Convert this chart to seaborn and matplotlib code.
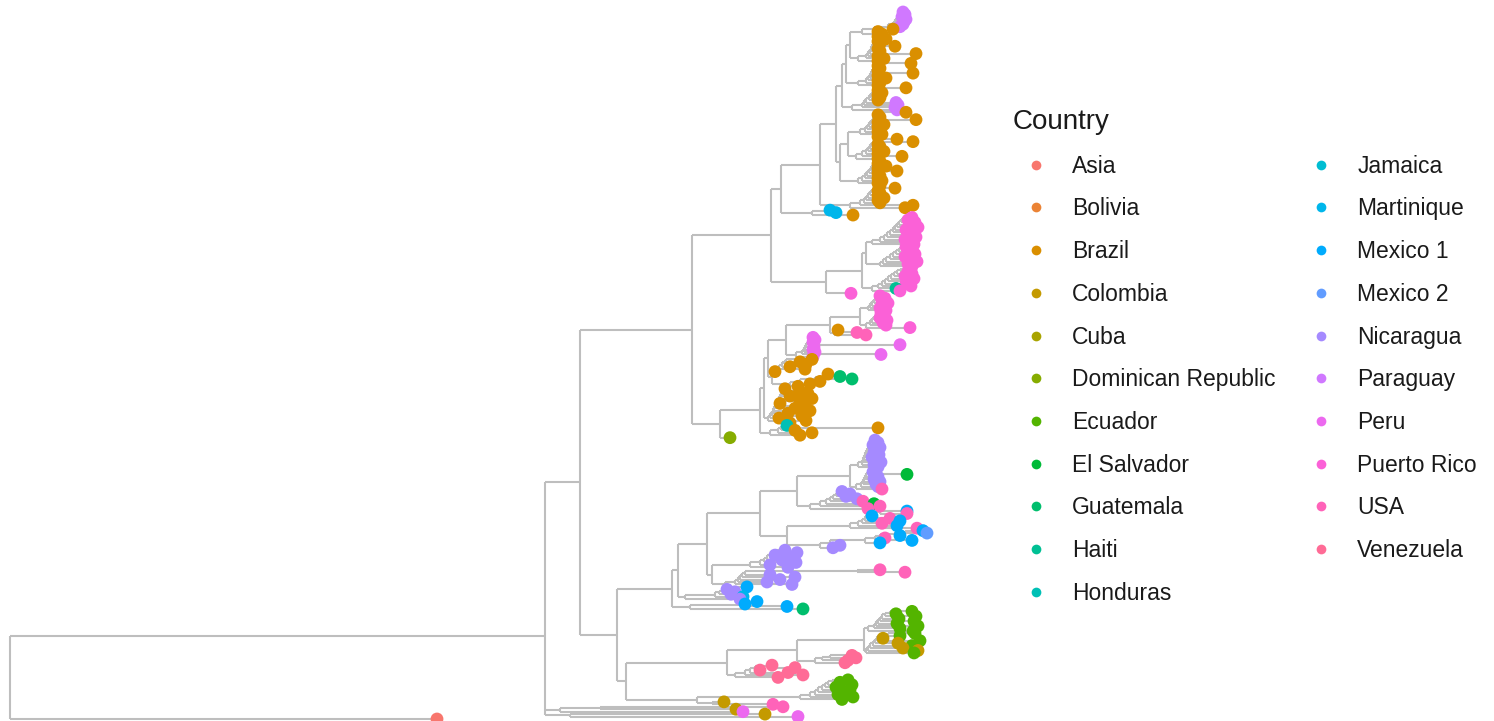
import numpy as np
import pandas as pd
import matplotlib
matplotlib.use("Agg")
import matplotlib.pyplot as plt
from matplotlib.collections import LineCollection
from matplotlib.lines import Line2D
import seaborn as sns

# ---- legend levels (factor order) ----
COUNTRIES = ["Asia", "Bolivia", "Brazil", "Colombia", "Cuba", "Dominican Republic",
             "Ecuador", "El Salvador", "Guatemala", "Haiti", "Honduras", "Jamaica",
             "Martinique", "Mexico 1", "Mexico 2", "Nicaragua", "Paraguay", "Peru",
             "Puerto Rico", "USA", "Venezuela"]
CODES = ["As", "Bo", "Br", "Co", "Cu", "DR", "Ec", "ES", "Gu", "Ha", "Ho", "Ja",
         "Ma", "M1", "M2", "Ni", "Pa", "Pe", "PR", "US", "Ve"]

# ---- ladder-shaped sub-clades, listed top to bottom ----
# "tip tip node tip node ...": every tip after the first is joined to the
# clade above it at the node depth that follows it (depths measured from the root)
T1 = "Pa:903 Pa:905 902 Pa:902 900 Pa:906 899 Pa:904 897 Pa:903 895 Pa:900 893 Br:893 888 Br:878 874 Br:882 862"
T2 = "Br:878 Br:886 876 Br:878 875 Br:880 874 Br:895 873 Br:878 872 Br:880 871 Br:916 870 Br:878 868 Br:884 866 Br:878 858"
T3 = "Br:911 Br:878 876 Br:880 875 Br:878 874 Br:913 872 Br:878 871 Br:886 870 Br:878 868 Br:880 866 Br:878 858"
T4 = "Br:906 Br:878 876 Br:882 874 Br:878 873 Br:880 871 Br:878 869 Pa:896 866 Pa:898 864 Pa:895 862 Pa:897 852"
T5 = "Br:906 Br:878 876 Br:880 875 Br:916 874 Br:878 873 Br:884 871 Br:878 869 Br:880 867 Br:878 865 Br:882 860"
T6 = "Br:878 Br:897 876 Br:913 875 Br:878 874 Br:880 872 Br:878 870 Br:884 868 Br:878 866 Br:902 862 Br:878 856"
T7 = "Br:880 Br:878 876 Br:886 875 Br:878 873 Br:897 871 Br:878 869 Br:880 867 Br:878 865 Br:882 862 Br:878 858"
T8 = "Br:880 Br:895 876 Br:878 874 Br:880 872 Br:878 870 Br:884 868 Br:878 866 Br:880 864 Br:913 860 Br:905 850"
MARTINIQUE = "Ma:830 Ma:836 826 Br:853 812"

PR_A = "PR:912 PR:908 903 PR:915 901 PR:910 899 PR:918 897 PR:906 895 PR:913 893 PR:909 890 PR:916 887 PR:905 884 PR:911 880 PR:914 872"
PR_B = "PR:906 PR:912 902 PR:909 899 PR:915 896 PR:905 893 PR:910 890 PR:917 886 PR:908 883 PR:912 880"
PR_C = "PR:910 PR:908 900 PR:912 897 PR:905 894 PR:914 891 PR:909 888 PR:906 885 PR:911 882 Ha:896 878 PR:900 872"

PR_L1 = "PR:880 PR:885 878 PR:882 876 PR:888 874 PR:884 872 PR:880 870 PR:886 868"
PR_L2 = "PR:881 PR:884 878 PR:880 876 PR:887 874 PR:883 872 PR:886 870 PR:910 866"
USA_MID = "Br:838 US:857 836 US:866 834"
PERU = "Pe:813 Pe:815 811 Pe:813 810 Pe:900 808 Pe:814 806 Pe:813 805 Pe:815 804 Pe:881 802 Pe:813 796"
BR_M1 = "Br:812 Br:800 786 Br:806 784 Br:790 782 Br:805 779 Br:775 774"
BR_M2 = "Br:828 Gu:840 834 Gu:852 830 Br:820 815 Br:810 800 Br:798 790"
BR_LA = "Br:785 Br:800 783 Br:808 782 Br:790 781 Br:812 780 Br:800 779 Br:780 777 Br:805 776 Br:795 775 Br:810 774 Br:788 773 Br:802 772 Br:779 770 Br:806 768"
BR_LB = "Br:790 Ho:787 785 Br:878 783 Br:795 781 Br:812 778 Br:800 770"

NI_T1 = "Ni:875 Ni:878 872 Ni:873 870 Ni:880 869 Ni:876 868 Ni:874 867 Ni:879 866 Ni:872 865 Ni:877 864 Ni:881 863 Ni:874 862 Ni:878 858"
NI_T2 = "Ni:876 Ni:873 870 ES:907 868 Ni:878 866 Ni:874 865 Ni:880 864 Ni:876 863 Ni:878 861 US:882 856"
NI_SIDE = "Ni:842 Ni:850 838 Ni:846 836 Ni:857 833 US:863 830 ES:874 826 US:880 820 US:868 810"
MX_1 = "M1:907 US:907 880 M1:872 870 US:890 868 M1:900 865 US:882 862 M1:897 858 US:917 850"
MX_2 = "M1:923 M2:927 905 M1:900 895 US:885 880 M1:912 875 M1:880 865 Ni:840 830 Ni:833 820"
NI_L1 = "Ni:785 Ni:797 775 Ni:775 772 Ni:790 770 Ni:782 767 Ni:796 764 Ni:770 760 Ni:788 750"
NI_L2 = "US:880 US:905 857 Ni:770 745 Ni:795 742 Ni:780 740 Ni:767 738 Ni:792 735 M1:747 725"
NI_BASE = "Ni:727 Ni:735 722 Ni:731 719 Ma:743 715 Ni:740 685"
MX_BASE = "M1:757 M1:745 742 M1:787 740 Gu:803 690"

EC_A1 = "Ec:912 Ec:896 890 Ec:916 885 Ec:899 882 Ec:914 880 Ec:897 878 Ec:918 876 Ec:900 874 Ec:913 868"
EC_A2 = "Ec:915 Ec:900 888 Co:883 880 Ec:920 877 Co:898 875 Ec:912 873 Co:903 870 Co:918 868 Ec:914 866"
VE_CHAIN = "Ve:852 Ve:856 830 Ve:848 822 Ve:845 815"
VE_BLOB = "Ve:772 Ve:795 768 Ve:760 755 Ve:788 750 Ve:803 745 Ve:778 735"
EC_B = "Ec:848 Ec:840 832 Ec:852 828 Ec:836 825 Ec:850 822 Ec:844 818 Ec:838 815 Ec:853 810 Ec:842 800"
BASAL_MIX = "Co:724 US:773 712"
BASAL_A = "US:783 Co:736 600 Pe:743 560"
BASAL_B = "Co:765 Pe:798 570"
OUTGROUP = "As:437"


def ladder(spec):
    toks = spec.split()
    out = toks[0]
    for tip, depth in zip(toks[1::2], toks[2::2]):
        out = f"({out},{tip}):{depth}"
    return out


L = {name: ladder(val) for name, val in dict(
    T1=T1, T2=T2, T3=T3, T4=T4, T5=T5, T6=T6, T7=T7, T8=T8, MA=MARTINIQUE,
    PRA=PR_A, PRB=PR_B, PRC=PR_C, PL1=PR_L1, PL2=PR_L2, USM=USA_MID, PE=PERU,
    BM1=BR_M1, BM2=BR_M2, BLA=BR_LA, BLB=BR_LB, NT1=NI_T1, NT2=NI_T2,
    NS=NI_SIDE, MX1=MX_1, MX2=MX_2, NL1=NI_L1, NL2=NI_L2, NB=NI_BASE,
    MB=MX_BASE, EA1=EC_A1, EA2=EC_A2, VC=VE_CHAIN, VB=VE_BLOB, EB=EC_B,
    BX=BASAL_MIX, BA=BASAL_A, BB=BASAL_B).items()}

# ---- backbone joining the sub-clades ----
top_brazil = (f"((((({L['T1']},{L['T2']}):850,{L['T3']}):846,{L['T4']}):842,"
              f"(({L['T5']},{L['T6']}):848,{L['T7']}):840):836,{L['T8']}):820")
pr_clade = f"((({L['PRA']},{L['PRB']}):866,{L['PRC']}):862,PR:851):826"
clade_771 = f"(({top_brazil},{L['MA']}):781,{pr_clade}):771"
clade_720 = (f"(((((({L['PL1']},{L['PL2']}):860,{L['USM']}):830,{L['PE']}):786,"
             f"({L['BM1']},{L['BM2']}):772):768,{L['BLA']}):764,{L['BLB']}):760")
clade_692 = f"({clade_771},({clade_720},DR:730):720):692"
clade_672 = (f"(((((({L['NT1']},{L['NT2']}):850,{L['NS']}):797,"
             f"({L['MX1']},{L['MX2']}):787):760,({L['NL1']},{L['NL2']}):712):707,"
             f"{L['NB']}):678,{L['MB']}):672")
clade_626 = (f"(((({L['EA1']},{L['EA2']}):864,{L['VC']}):797,{L['VB']}):727,"
             f"({L['EB']},{L['BX']}):697):626")
TREE = (f"((({clade_692},({clade_672},{clade_626}):617):580,{L['BA']},{L['BB']}):545,"
        f"{OUTGROUP}):10")


def parse_tree(text):
    s = "".join(text.split())
    pos = 0

    def node():
        nonlocal pos
        kids, label = [], None
        if s[pos] == "(":
            pos += 1
            kids.append(node())
            while s[pos] == ",":
                pos += 1
                kids.append(node())
            pos += 1  # ')'
        else:
            start = pos
            while s[pos] != ":":
                pos += 1
            label = s[start:pos]
        pos += 1  # ':'
        start = pos
        while pos < len(s) and s[pos] not in ",)":
            pos += 1
        return {"label": label, "x": float(s[start:pos]), "kids": kids}

    return node()


root = parse_tree(TREE)

# tips are stacked top to bottom; an internal node sits at the mean of its children
tips = []


def collect(n):
    if not n["kids"]:
        tips.append(n)
    for k in n["kids"]:
        collect(k)


collect(root)
y_top, y_bottom = 12.0, 719.0
step = (y_bottom - y_top) / (len(tips) - 1)
for i, t in enumerate(tips):
    t["y"] = y_top + i * step


def set_y(n):
    if n["kids"]:
        n["y"] = float(np.mean([set_y(k) for k in n["kids"]]))
    return n["y"]


set_y(root)

segments = []


def edges(n, parent=None):
    if parent is not None:
        segments.append([(parent["x"], n["y"]), (n["x"], n["y"])])
    if n["kids"]:
        ys = [k["y"] for k in n["kids"]]
        segments.append([(n["x"], min(ys)), (n["x"], max(ys))])
        for k in n["kids"]:
            edges(k, n)


edges(root)

code_to_country = dict(zip(CODES, COUNTRIES))
tip_df = pd.DataFrame({
    "x": [t["x"] for t in tips],
    "y": [t["y"] for t in tips],
    "Country": [code_to_country[t["label"]] for t in tips],
})


# evenly spaced HCL hues (ggplot2 default discrete colour scale)
def hue_pal(n, h0=15, h1=375, c=100, l=65):
    hues = np.linspace(h0, h1, n + 1)[:-1]
    xn, yn, zn = 95.047, 100.0, 108.883
    un = 4 * xn / (xn + 15 * yn + 3 * zn)
    vn = 9 * yn / (xn + 15 * yn + 3 * zn)
    m = np.array([[3.2404542, -1.5371385, -0.4985314],
                  [-0.9692660, 1.8760108, 0.0415560],
                  [0.0556434, -0.2040259, 1.0572252]])
    out = []
    for h in hues:
        u = c * np.cos(np.radians(h))
        v = c * np.sin(np.radians(h))
        Y = yn * ((l + 16) / 116) ** 3
        up = u / (13 * l) + un
        vp = v / (13 * l) + vn
        X = Y * 9 * up / (4 * vp)
        Z = Y * (12 - 3 * up - 20 * vp) / (4 * vp)
        rgb = m @ (np.array([X, Y, Z]) / 100)
        rgb = np.where(rgb <= 0.0031308, 12.92 * rgb,
                       1.055 * np.power(np.clip(rgb, 0, None), 1 / 2.4) - 0.055)
        out.append(tuple(np.clip(rgb, 0, 1)))
    return out


PALETTE = dict(zip(COUNTRIES, hue_pal(len(COUNTRIES))))

sns.set_theme(style="white")
plt.rcParams["font.family"] = ["Liberation Sans", "DejaVu Sans"]

fig = plt.figure(figsize=(14.94, 7.21), dpi=100)
ax = fig.add_axes([0, 0, 1, 1])
ax.add_collection(LineCollection(segments, colors="#BEBEBE", linewidths=1.5,
                                 capstyle="butt", zorder=1))
sns.scatterplot(data=tip_df, x="x", y="y", hue="Country", hue_order=COUNTRIES,
                palette=PALETTE, s=85, linewidth=0, legend=False, ax=ax, zorder=3)
ax.set_xlim(0, 1494)
ax.set_ylim(721, 0)
ax.axis("off")

handles = [Line2D([], [], linestyle="none", marker="o", markersize=7,
                  markerfacecolor=PALETTE[c], markeredgewidth=0, label=c)
           for c in COUNTRIES]
leg = fig.legend(handles=handles, title="Country", ncol=2, loc="upper left",
                 bbox_to_anchor=(1013 / 1494, 1 - 109 / 721), frameon=False,
                 fontsize=16.5, title_fontsize=20, borderpad=0, borderaxespad=0,
                 handlelength=2.0, handletextpad=0.57, columnspacing=1.0,
                 labelspacing=0.86, alignment="left")
for txt in leg.get_texts():
    txt.set_color("#1A1A1A")
leg.get_title().set_color("#1A1A1A")

fig.savefig("out.png", dpi=100, facecolor="white")
